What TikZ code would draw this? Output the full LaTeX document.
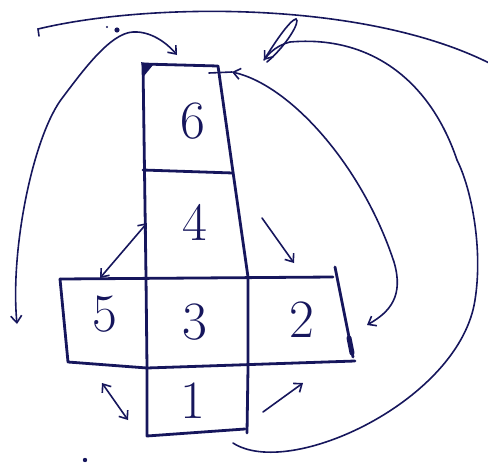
\documentclass[tikz,border=0pt]{standalone}
\usetikzlibrary{arrows.meta}
\definecolor{ink}{RGB}{22,22,92}
\begin{document}
\begin{tikzpicture}[x=1pt,y=-1pt,
  edgeline/.style={ink, line width=2.8pt, line join=round, line cap=round},
  curveline/.style={ink, line width=1.6pt, line cap=round},
  face/.style={ink, font=\fontsize{54}{54}\selectfont, inner sep=0pt},
  barb/.tip={Straight Barb[length=7pt,width=11pt]}]
\useasboundingbox (0,0) rectangle (488,464);
% faces
\node[face] (f6) at (193,121) {6};
\node[face] (f4) at (195,222) {4};
\node[face] (f5) at (105,314) {5};
\node[face] (f3) at (195,322) {3};
\node[face] (f2) at (302,320) {2};
\node[face] (f1) at (193,401) {1};
% net outline
\draw[edgeline] (143,64) -- (218,66) -- (233,172) -- (248,277) -- (248,368) -- (247,433);
\draw[edgeline] (143,64) -- (146,277) -- (147,368) -- (147,436) -- (245,429);
\draw[edgeline] (143,170) -- (233,173);
\draw[edgeline] (60,279) -- (333,277);
\draw[edgeline] (60,279) -- (68,362) -- (147,368) -- (355,361);
\draw[edgeline] (335,267) -- (353,357);
\draw[ink, line width=5pt, line cap=round] (349,338) -- (352,353);
\fill[ink] (141,62) -- (153,65) -- (144,76) -- cycle;
% connector end points
\coordinate (a6l) at (177,55);
\coordinate (aL) at (17,324);
\coordinate (a6r) at (232,72);
\coordinate (a2r) at (367,325);
\coordinate (a1b) at (233,443);
\coordinate (a6t) at (264,60);
\coordinate (a5t) at (100,278);
\coordinate (a4l) at (147,223);
\coordinate (a4r) at (262,218);
\coordinate (a2t) at (294,263);
\coordinate (a5b) at (102,383);
\coordinate (a1l) at (128,420);
\coordinate (a1r) at (263,412);
\coordinate (a2b) at (303,383);
% top arc
\draw[curveline] (39,36) -- (38,29) .. controls (150,2) and (370,0) .. (495,66);
% left long arrow
\draw[curveline, {barb}-{barb}] (aL) .. controls (10,250) and (33,135) .. (63,97)
   .. controls (82,72) and (110,33) .. (133,32) .. controls (150,31) and (166,42) .. (a6l);
% right arrow 6 <-> 2
\draw[curveline, {barb}-{barb}] (a6r) .. controls (290,85) and (362,165) .. (394,262)
   .. controls (404,296) and (390,312) .. (a2r);
\draw[curveline] (a6r) -- (209,73);
% long curve from under 1 to top right of 6
\draw[curveline, -{barb}] (a1b) .. controls (290,480) and (460,400) .. (475,300)
   .. controls (483,250) and (472,190) .. (457,160)
   .. controls (430,80) and (370,35) .. (290,42)
   .. controls (278,45) and (270,52) .. (a6t);
\draw[curveline] (a6t) .. controls (275,42) and (290,20) .. (296,19)
   .. controls (301,21) and (286,46) .. (267,62);
% short arrows
\draw[curveline, {barb}-{barb}] (a5t) -- (a4l);
\draw[curveline, -{barb}] (a4r) -- (a2t);
\draw[curveline, {barb}-{barb}] (a5b) -- (a1l);
\draw[curveline, -{barb}] (a1r) -- (a2b);
% stray marks
\fill[ink] (117,30) circle (2.6pt);
\fill[ink] (107,27) circle (1.2pt);
\fill[ink] (85,460) circle (2.2pt);
\end{tikzpicture}
\end{document}
